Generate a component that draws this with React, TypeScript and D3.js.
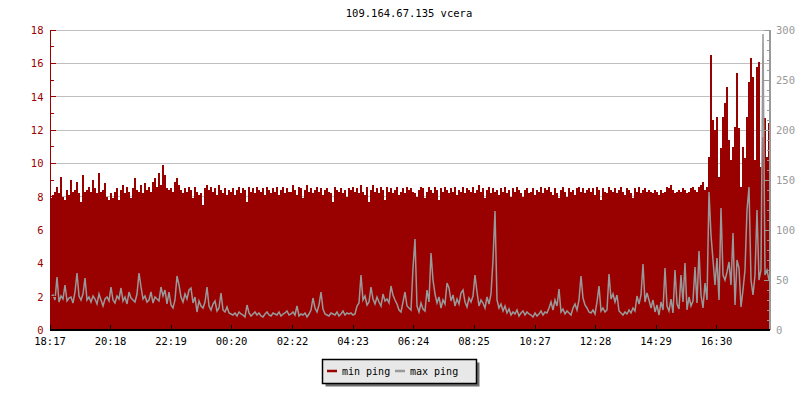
import React from "react";
import * as d3 from "d3";

const title = "109.164.67.135 vcera";
const timeLabels = ["18:17", "20:18", "22:19", "00:20", "02:22", "04:23", "06:24", "08:25", "10:27", "12:28", "14:29", "16:30"];
const leftTicks = [0, 2, 4, 6, 8, 10, 12, 14, 16, 18];
const rightTicks = [0, 50, 100, 150, 200, 250, 300];
const seriesNames = ["min ping", "max ping"];
const startLabel = "18:17";
const stepMinutes = 4;

// min ping (left axis), one value per 4 minutes
const minPing = [
  7.9, 8.1, 8.3, 8.6, 8.2, 9.2, 8.0, 7.8, 8.4, 8.1, 9.0, 8.3, 8.4, 8.9, 8.2, 7.7, 9.3, 8.3, 8.4, 8.6, 8.3, 9.0, 8.5, 8.2, 9.4, 8.3, 8.4, 8.8, 8.0, 7.8,
  8.2, 7.9, 8.3, 8.5, 7.8, 8.4, 8.7, 8.2, 8.6, 8.3, 7.9, 8.5, 9.1, 8.4, 8.3, 8.7, 8.2, 8.8, 8.4, 8.6, 8.3, 8.9, 9.1, 8.6, 9.4, 8.7, 9.9, 9.3, 8.5, 8.4,
  8.5, 8.3, 8.9, 9.1, 8.7, 8.4, 8.2, 8.5, 8.3, 8.6, 8.4, 7.9, 8.6, 8.3, 8.1, 8.2, 7.5, 8.5, 8.7, 8.4, 8.6, 8.3, 8.5, 8.1, 8.7, 8.4, 8.2, 8.5, 8.1, 8.4,
  8.3, 8.5, 8.1, 8.4, 8.6, 8.2, 8.5, 8.4, 7.7, 8.6, 8.3, 8.5, 8.2, 8.6, 8.4, 8.3, 8.5, 8.1, 8.6, 8.4, 8.2, 8.5, 8.3, 8.6, 8.1, 8.4, 8.6, 8.2, 8.5, 8.3,
  8.3, 8.7, 8.4, 8.1, 8.6, 8.5, 7.9, 8.4, 8.7, 8.3, 8.5, 8.2, 8.4, 8.6, 8.3, 8.5, 8.1, 8.4, 8.5, 8.3, 8.2, 7.7, 8.6, 8.4, 8.3, 8.5, 8.2, 8.4, 8.0, 8.5,
  8.4, 8.6, 8.3, 8.5, 8.2, 8.7, 8.3, 8.1, 8.6, 7.7, 8.4, 8.7, 8.3, 8.5, 8.2, 8.6, 8.4, 7.8, 8.6, 8.3, 8.5, 8.2, 8.4, 8.6, 8.1, 8.3, 8.5, 8.2, 8.6, 8.4,
  8.5, 8.3, 8.2, 8.0, 8.4, 8.6, 8.5, 7.9, 8.3, 8.6, 8.4, 8.2, 8.6, 8.4, 7.8, 8.5, 8.3, 8.6, 8.4, 8.2, 8.5, 8.3, 8.6, 8.1, 8.4, 8.3, 8.6, 8.2, 8.5, 8.4,
  8.3, 8.6, 8.2, 8.4, 8.7, 8.3, 8.5, 7.9, 8.4, 8.6, 8.2, 8.5, 8.3, 8.4, 8.1, 8.5, 8.3, 8.6, 8.2, 8.4, 8.0, 8.5, 8.3, 8.6, 8.4, 8.2, 8.0, 8.4, 8.5, 8.2,
  8.3, 8.5, 8.1, 8.4, 8.3, 8.6, 8.2, 8.5, 8.4, 8.6, 8.3, 8.1, 8.5, 8.2, 7.9, 8.4, 8.6, 8.3, 8.0, 8.5, 8.3, 8.4, 8.1, 8.5, 8.6, 8.3, 8.5, 8.2, 8.4, 8.5,
  8.3, 8.5, 8.1, 8.6, 8.4, 7.8, 8.5, 8.3, 8.2, 8.6, 8.4, 8.3, 8.5, 8.2, 8.4, 8.6, 8.3, 8.1, 8.5, 8.4, 8.2, 7.9, 8.5, 8.3, 8.6, 8.2, 8.4, 8.5, 8.3, 8.4,
  8.3, 8.2, 8.4, 8.3, 8.1, 8.4, 8.2, 8.3, 8.6, 8.5, 8.7, 8.4, 8.2, 8.3, 8.4, 8.3, 8.5, 8.4, 8.2, 8.3, 8.5, 8.6, 8.4, 8.3, 8.6, 8.7, 8.9, 8.4, 8.6, 10.4,
  16.5, 12.6, 12.0, 12.8, 9.2, 10.9, 12.8, 13.6, 14.6, 11.4, 10.2, 11.0, 12.2, 15.4, 12.1, 8.6, 11.0, 10.3, 12.8, 14.9, 16.3, 15.2, 10.2, 15.8, 16.1, 9.8, 11.6, 12.7, 10.4, 12.4,
];

// max ping (right axis), one value per 4 minutes
const maxPing = [
  33, 35, 30, 53, 28, 34, 31, 45, 29, 32, 33, 27, 38, 57, 34, 30, 36, 52, 30, 33, 28, 34, 31, 26, 36, 30, 24, 31, 33, 29,
  43, 30, 27, 34, 31, 42, 29, 33, 26, 38, 32, 30, 28, 36, 57, 43, 31, 34, 28, 30, 38, 27, 33, 31, 29, 43, 34, 40, 26, 38,
  25, 22, 30, 54, 45, 33, 28, 36, 31, 40, 42, 27, 33, 18, 29, 24, 22, 28, 43, 24, 20, 26, 29, 19, 22, 37, 20, 18, 23, 17,
  16, 15, 17, 14, 18, 16, 15, 13, 25, 17, 14, 16, 18, 15, 17, 14, 13, 16, 18, 15, 14, 17, 16, 15, 18, 14, 16, 17, 19, 15,
  16, 18, 15, 24, 14, 16, 15, 17, 13, 16, 20, 32, 22, 18, 25, 38, 21, 16, 15, 14, 17, 16, 15, 18, 14, 16, 19, 15, 17, 16,
  17, 15, 16, 24, 27, 55, 30, 34, 25, 28, 43, 31, 26, 33, 28, 24, 36, 29, 31, 27, 44, 35, 30, 26, 20, 18, 28, 38, 24, 22,
  20, 62, 91, 24, 18, 27, 21, 19, 40, 28, 77, 50, 36, 27, 33, 22, 30, 26, 47, 42, 29, 35, 24, 31, 26, 37, 40, 28, 23, 32,
  28, 34, 55, 38, 24, 30, 27, 22, 33, 26, 36, 70, 119, 30, 22, 26, 19, 24, 17, 21, 15, 18, 16, 20, 14, 17, 19, 15, 18, 16,
  15, 13, 17, 14, 16, 19, 15, 18, 17, 22, 28, 20, 30, 24, 41, 18, 21, 16, 19, 17, 15, 22, 26, 20, 30, 54, 32, 25, 22, 18,
  17, 20, 16, 28, 44, 19, 22, 18, 20, 56, 31, 36, 28, 35, 19, 17, 15, 18, 16, 20, 17, 22, 19, 34, 26, 35, 66, 28, 37, 30,
  22, 30, 18, 25, 15, 28, 20, 62, 24, 19, 31, 17, 60, 26, 21, 55, 28, 67, 20, 33, 24, 29, 63, 27, 79, 35, 22, 47, 30, 138,
  95, 70, 45, 72, 30, 122, 55, 50, 58, 68, 45, 97, 25, 70, 62, 23, 40, 60, 120, 143, 50, 35, 55, 120, 50, 60, 296, 55, 60, 50,
];

const RED = "#990000";
const GRAY = "#999999";
const FONT = "'DejaVu Sans Mono', monospace";

function toMin(label: string) {
  const [h, m] = label.split(":").map(Number);
  const s = startLabel.split(":").map(Number);
  let d = h * 60 + m - (s[0] * 60 + s[1]);
  if (d < 0) d += 1440;
  return d;
}

export default function App() {
  const W = 800, H = 400;
  const left = 50, right = 770, top = 30, bottom = 330;
  const total = minPing.length * stepMinutes;
  const x = d3.scaleLinear().domain([0, total]).range([left, right]);
  const yL = d3.scaleLinear().domain([0, 18]).range([bottom, top]);
  const yR = d3.scaleLinear().domain([0, 300]).range([bottom, top]);

  const redPts = minPing.map((v, i) => [i * stepMinutes, v] as [number, number]);
  redPts.push([total, minPing[minPing.length - 1]]);
  const grayPts = maxPing.map((v, i) => [i * stepMinutes + stepMinutes / 2, v] as [number, number]);

  const area = d3.area<[number, number]>()
    .x(d => x(d[0])).y0(yL(0)).y1(d => yL(d[1])).curve(d3.curveStepAfter);
  const line = d3.line<[number, number]>()
    .x(d => x(d[0])).y(d => yR(d[1]));

  const leftMinor = d3.range(0, 19, 1);
  const rightMinor = d3.range(0, 301, 10);

  return (
    <svg width={W} height={H} style={{ display: "block", position: "absolute", left: 0, top: 0 }} fontFamily={FONT}>
      <rect x={0} y={0} width={W} height={H} fill="#ffffff" />
      <text x={409} y={17} textAnchor="middle" fontSize={10.5} fill="#000">{title}</text>
      {leftTicks.filter(t => t > 0).map(t => (
        <line key={"g" + t} x1={left} x2={right} y1={yL(t)} y2={yL(t)} stroke="#c0c0c0" strokeWidth={1} shapeRendering="crispEdges" />
      ))}
      <path d={area(redPts) || ""} fill={RED} shapeRendering="crispEdges" />
      <path d={line(grayPts) || ""} fill="none" stroke={GRAY} strokeWidth={1.5} strokeLinejoin="miter" />
      {/* left axis */}
      <line x1={left} x2={left} y1={top} y2={bottom} stroke={RED} strokeWidth={1} shapeRendering="crispEdges" />
      {leftMinor.map(t => (
        <line key={"lt" + t} x1={left} x2={left + (t % 2 === 0 ? 6 : 4)} y1={yL(t)} y2={yL(t)} stroke={RED} strokeWidth={1} shapeRendering="crispEdges" />
      ))}
      {leftTicks.map(t => (
        <text key={"ll" + t} x={43.5} y={yL(t) + 4} textAnchor="end" fontSize={10.5} fill={RED}>{t}</text>
      ))}
      {/* right axis */}
      <line x1={right} x2={right} y1={top} y2={bottom} stroke={GRAY} strokeWidth={1.5} shapeRendering="crispEdges" />
      {rightMinor.map(t => (
        <line key={"rt" + t} x1={right - (t % 50 === 0 ? 6 : 3)} x2={right} y1={yR(t)} y2={yR(t)} stroke={GRAY} strokeWidth={1} shapeRendering="crispEdges" />
      ))}
      {rightTicks.map(t => (
        <text key={"rl" + t} x={776} y={yR(t) + 4} textAnchor="start" fontSize={10.5} fill={GRAY}>{t}</text>
      ))}
      {/* bottom axis */}
      <line x1={left} x2={right} y1={bottom} y2={bottom} stroke="#000" strokeWidth={1.5} shapeRendering="crispEdges" />
      {timeLabels.map(l => (
        <g key={l}>
          <line x1={x(toMin(l))} x2={x(toMin(l))} y1={bottom} y2={bottom - 5} stroke="#000" strokeWidth={1} shapeRendering="crispEdges" />
          <text x={x(toMin(l))} y={345} textAnchor="middle" fontSize={10.5} fill="#000">{l}</text>
        </g>
      ))}
      {/* legend */}
      <rect x={325.5} y={362.5} width={154} height={24} fill="#6e6e6e" />
      <rect x={322.5} y={359.5} width={154} height={24} fill="#e8e8e8" stroke="#000" strokeWidth={1.5} />
      <line x1={327} x2={337} y1={371} y2={371} stroke={RED} strokeWidth={2.5} />
      <text x={342} y={375} fontSize={10} fill="#000">{seriesNames[0]}</text>
      <line x1={395} x2={405} y1={371} y2={371} stroke={GRAY} strokeWidth={2.5} />
      <text x={410} y={375} fontSize={10} fill="#000">{seriesNames[1]}</text>
    </svg>
  );
}
